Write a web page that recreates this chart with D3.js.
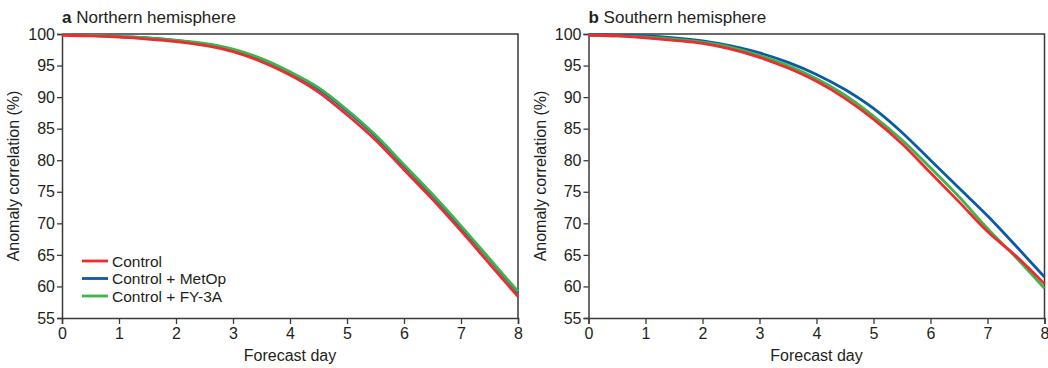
<!DOCTYPE html>
<html>
<head>
<meta charset="utf-8">
<script src="https://cdn.jsdelivr.net/npm/d3@7"></script>
<style>
  body { margin: 0; background: #fff; }
  svg text { font-family: "Liberation Sans", "Noto Sans", sans-serif; fill: #231f20; }
</style>
</head>
<body>
<svg id="chart" width="1048" height="368"></svg>
<script>
// forecast days, every half day
const days = [0, 0.5, 1, 1.5, 2, 2.5, 3, 3.5, 4, 4.5, 5, 5.5, 6, 6.5, 7, 7.5, 8];

const seriesNames = ['Control', 'Control + MetOp', 'Control + FY-3A'];
const colors = ['#ee2b2f', '#0a5aa6', '#3cb64b'];

// northern hemisphere
const nhControl = [99.8, 99.7, 99.5, 99.2, 98.8, 98.2, 97.2, 95.6, 93.5, 90.8, 87.2, 83.2, 78.5, 73.8, 68.8, 63.6, 58.4];
const nhMetop   = [99.9, 99.8, 99.6, 99.4, 99.0, 98.4, 97.5, 96.0, 93.9, 91.3, 87.8, 83.8, 79.1, 74.4, 69.4, 64.3, 59.0];
const nhFy3a    = [99.9, 99.8, 99.6, 99.4, 99.0, 98.5, 97.6, 96.1, 94.0, 91.5, 88.0, 84.0, 79.3, 74.6, 69.6, 64.4, 59.2];

// southern hemisphere
const shControl = [99.8, 99.7, 99.4, 99.0, 98.5, 97.6, 96.3, 94.6, 92.5, 89.8, 86.5, 82.6, 78.0, 73.4, 68.7, 64.8, 60.4];
const shMetop   = [99.9, 99.8, 99.7, 99.4, 98.9, 98.1, 97.0, 95.5, 93.6, 91.2, 88.2, 84.4, 80.0, 75.6, 71.2, 66.4, 61.5];
const shFy3a    = [99.8, 99.7, 99.5, 99.2, 98.7, 97.9, 96.6, 95.0, 92.9, 90.3, 87.0, 83.2, 78.8, 74.2, 69.2, 64.6, 59.7];

const xTicks = [0, 1, 2, 3, 4, 5, 6, 7, 8];
const yTicks = [55, 60, 65, 70, 75, 80, 85, 90, 95, 100];

const panels = [
  {letter: 'a', title: 'Northern hemisphere', left: 62, series: [nhControl, nhMetop, nhFy3a], legend: true},
  {letter: 'b', title: 'Southern hemisphere', left: 588.5, series: [shControl, shMetop, shFy3a], legend: false}
];

const plotTop = 34;
const plotBottom = 318;
const plotWidth = 456;
const axisColor = '#3a3a3a';
const fontSize = '16px';

const svg = d3.select('#chart');

panels.forEach((p) => {
  const x = d3.scaleLinear().domain([0, 8]).range([p.left, p.left + plotWidth]);
  const y = d3.scaleLinear().domain([55, 100]).range([plotBottom, plotTop]);

  const g = svg.append('g');

  // frame top and right
  g.append('path')
    .attr('d', `M${x(0)},${y(100)}H${x(8)}V${y(55)}`)
    .attr('fill', 'none')
    .attr('stroke', axisColor)
    .attr('stroke-width', 1.5);

  const xAxis = g.append('g')
    .attr('transform', `translate(0,${plotBottom})`)
    .call(d3.axisBottom(x).tickValues(xTicks).tickFormat(d3.format('d')).tickSize(6).tickPadding(4));

  const yAxis = g.append('g')
    .attr('transform', `translate(${p.left},0)`)
    .call(d3.axisLeft(y).tickValues(yTicks).tickSize(5).tickPadding(2));

  [xAxis, yAxis].forEach((a) => {
    a.select('.domain').attr('stroke', axisColor).attr('stroke-width', 1.5);
    a.selectAll('.tick line').attr('stroke', axisColor).attr('stroke-width', 1.3);
    a.selectAll('.tick text').style('font-size', fontSize).attr('fill', '#231f20');
  });

  g.append('text')
    .attr('x', x(4))
    .attr('y', 361)
    .attr('text-anchor', 'middle')
    .style('font-size', fontSize)
    .text('Forecast day');

  g.append('text')
    .attr('transform', `translate(${p.left - 43},${(plotTop + plotBottom) / 2}) rotate(-90)`)
    .attr('text-anchor', 'middle')
    .style('font-size', fontSize)
    .text('Anomaly correlation (%)');

  const title = g.append('text')
    .attr('x', p.left)
    .attr('y', 23)
    .style('font-size', '17px');
  title.append('tspan').style('font-weight', 'bold').text(p.letter);
  title.append('tspan').text(' ' + p.title);

  const line = d3.line()
    .x((d, i) => x(days[i]))
    .y((d) => y(d))
    .curve(d3.curveMonotoneX);

  // metop first, then fy-3a, control on top as in the original
  [1, 2, 0].forEach((k) => {
    g.append('path')
      .datum(p.series[k])
      .attr('d', line)
      .attr('fill', 'none')
      .attr('stroke', colors[k])
      .attr('stroke-width', 2.8);
  });

  if (p.legend) {
    const legend = g.append('g').attr('class', 'legend');
    seriesNames.forEach((name, i) => {
      const ly = 261 + i * 17.5;
      legend.append('line')
        .attr('x1', 82).attr('x2', 108)
        .attr('y1', ly).attr('y2', ly)
        .attr('stroke', colors[i])
        .attr('stroke-width', 2.8);
      legend.append('text')
        .attr('x', 112)
        .attr('y', ly + 5.5)
        .style('font-size', '15.5px')
        .text(name);
    });
  }
});
</script>
</body>
</html>
